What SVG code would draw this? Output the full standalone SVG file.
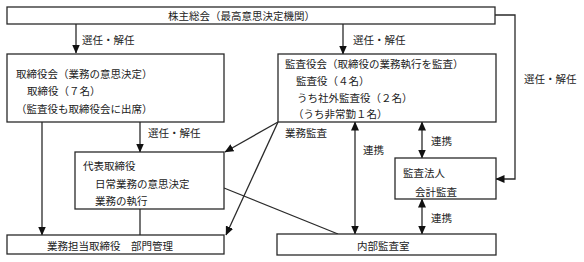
<svg xmlns="http://www.w3.org/2000/svg" width="584" height="262" viewBox="0 0 584 262">
<style>
  text { font-family: "Noto Sans CJK JP", "Noto Sans CJK SC", sans-serif; font-size: 10.5px; fill: #222; }
  .box { fill: #fff; stroke: #2a2a2a; stroke-width: 1.3; }
  .ln { fill: none; stroke: #2a2a2a; stroke-width: 1.3; }
  .ar { marker-end: url(#ah); }
  .dbl { marker-start: url(#ahs); marker-end: url(#ah); }
</style>
<defs>
  <marker id="ah" markerUnits="userSpaceOnUse" markerWidth="9" markerHeight="8" refX="8.5" refY="4" orient="auto">
    <path d="M0,0 L9,4 L0,8 z" fill="#111"/>
  </marker>
  <marker id="ahs" markerUnits="userSpaceOnUse" markerWidth="9" markerHeight="8" refX="0.5" refY="4" orient="auto">
    <path d="M9,0 L0,4 L9,8 z" fill="#111"/>
  </marker>
</defs>
<rect width="584" height="262" fill="#fff"/>

<g id="connectors">
  <line class="ln ar" x1="76" y1="24" x2="76" y2="53"/>
  <line class="ln ar" x1="343" y1="24" x2="343" y2="54"/>
  <polyline class="ln ar" points="495,15 515,15 515,179 496,179"/>
  <line class="ln ar" x1="42" y1="122" x2="42" y2="235"/>
  <line class="ln ar" x1="140" y1="122" x2="140" y2="152"/>
  <line class="ln" x1="140" y1="209" x2="140" y2="235"/>
  <line class="ln ar" x1="278" y1="122" x2="225" y2="152"/>
  <line class="ln ar" x1="278" y1="122" x2="226" y2="235"/>
  <line class="ln" x1="224" y1="188" x2="338" y2="234"/>
  <line class="ln dbl" x1="355" y1="122" x2="355" y2="234"/>
  <line class="ln dbl" x1="422" y1="122" x2="422" y2="158"/>
  <line class="ln dbl" x1="422" y1="199" x2="422" y2="234"/>
  <text x="82" y="44">選任・解任</text>
  <text x="353" y="44">選任・解任</text>
  <text x="524" y="83">選任・解任</text>
  <text x="148" y="137">選任・解任</text>
  <text x="285" y="137">業務監査</text>
  <text x="363" y="154">連携</text>
  <text x="431" y="145">連携</text>
  <text x="431" y="222">連携</text>
</g>

<g id="shareholders">
  <rect class="box" x="7" y="7" width="488" height="17"/>
  <text x="168" y="20">株主総会（最高意思決定機関）</text>
</g>

<g id="board">
  <rect class="box" x="7" y="54" width="217" height="68"/>
  <text x="16" y="78">取締役会（業務の意思決定）</text>
  <text x="27" y="95">取締役（７名）</text>
  <text x="16" y="113">（監査役も取締役会に出席）</text>
</g>

<g id="auditors">
  <rect class="box" x="278" y="54" width="218" height="68"/>
  <text x="285" y="68">監査役会（取締役の業務執行を監査）</text>
  <text x="296" y="85">監査役（４名）</text>
  <text x="297" y="102">うち社外監査役（２名）</text>
  <text x="293" y="118">（うち非常勤１名）</text>
</g>

<g id="representative">
  <rect class="box" x="75" y="152" width="149" height="57"/>
  <text x="83" y="170">代表取締役</text>
  <text x="95" y="188">日常業務の意思決定</text>
  <text x="95" y="205">業務の執行</text>
</g>

<g id="audit-firm">
  <rect class="box" x="395" y="158" width="101" height="41"/>
  <text x="403" y="177">監査法人</text>
  <text x="415" y="196">会計監査</text>
</g>

<g id="business-directors">
  <rect class="box" x="7" y="235" width="217" height="19"/>
  <text x="47" y="250">業務担当取締役　部門管理</text>
</g>

<g id="internal-audit">
  <rect class="box" x="277" y="234" width="219" height="21"/>
  <text x="357" y="250">内部監査室</text>
</g>
</svg>
